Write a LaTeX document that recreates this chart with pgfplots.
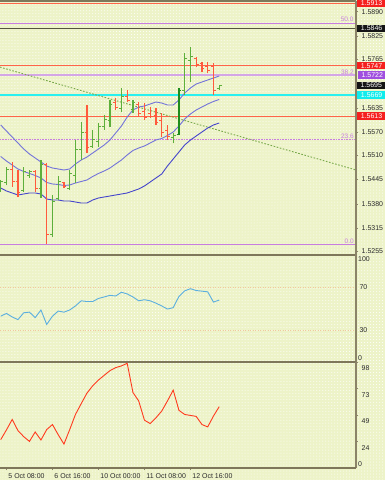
\documentclass[border=0pt]{standalone}
\usepackage{fontspec}
\setmainfont{Liberation Sans}
\usepackage{pgfplots}
\usepackage{pgfplotstable}
\pgfplotsset{compat=1.18}
\usetikzlibrary{patterns}

\definecolor{bg}{HTML}{EDF3C8}
\definecolor{sep}{HTML}{7E775A}
\definecolor{axc}{HTML}{8B8468}
\definecolor{txt}{HTML}{2A2A2A}
\definecolor{redl}{HTML}{FF6448}
\definecolor{redbox}{HTML}{F5201E}
\definecolor{blkbox}{HTML}{151515}
\definecolor{purbox}{HTML}{A04FDF}
\definecolor{cyanbox}{HTML}{10ECEC}
\definecolor{cyanl}{HTML}{29F0F0}
\definecolor{fibc}{HTML}{C87DE0}
\definecolor{fibthick}{HTML}{D4A6E6}
\definecolor{darkl}{HTML}{55533F}
\definecolor{gbar}{HTML}{5DAF3B}
\definecolor{dgbar}{HTML}{1E8C1E}
\definecolor{rbar}{HTML}{FF5A3C}
\definecolor{bandu}{HTML}{7373DA}
\definecolor{bandl}{HTML}{4545CC}
\definecolor{rsic}{HTML}{5AAEE0}
\definecolor{stoc}{HTML}{FF3A1E}
\definecolor{lvl}{HTML}{F2C79E}
\definecolor{trend}{HTML}{78A84A}

\newcommand\tf{\fontsize{7}{8}\selectfont}

\pgfdeclareplotmark{otick}{\pgfpathmoveto{\pgfpoint{-2.3bp}{0bp}}\pgfpathlineto{\pgfpoint{0bp}{0bp}}\pgfusepathqstroke}
\pgfdeclareplotmark{ctick}{\pgfpathmoveto{\pgfpoint{0bp}{0bp}}\pgfpathlineto{\pgfpoint{2.3bp}{0bp}}\pgfusepathqstroke}

% bars: index open high low close
\pgfplotstableread{
i o h l c
0 1.5415 1.5444 1.5412 1.5440
1 1.5438 1.5478 1.5430 1.5470
4 1.5415 1.5478 1.5412 1.5465
5 1.5455 1.5470 1.5449 1.5465
7 1.5420 1.5497 1.5396 1.5485
9 1.5300 1.5404 1.5292 1.5385
10 1.5395 1.5454 1.5390 1.5440
12 1.5422 1.5470 1.5417 1.5460
13 1.5455 1.5550 1.5435 1.5525
14 1.5525 1.5597 1.5497 1.5570
16 1.5532 1.5576 1.5528 1.5550
17 1.5545 1.5595 1.5531 1.5585
18 1.5585 1.5616 1.5576 1.5605
19 1.5600 1.5656 1.5584 1.5645
21 1.5632 1.5688 1.5624 1.5665
23 1.5630 1.5656 1.5621 1.5648
30 1.5555 1.5568 1.5541 1.5562
32 1.5680 1.5780 1.5669 1.5765
33 1.5760 1.5796 1.5703 1.5770
38 1.5685 1.5696 1.5682 1.5695
}\greenbars
\pgfplotstableread{
i o h l c
31 1.5565 1.5688 1.5563 1.5680
}\dgreenbars
\pgfplotstableread{
i o h l c
2 1.5470 1.5491 1.5425 1.5440
3 1.5440 1.5470 1.5398 1.5410
6 1.5465 1.5470 1.5412 1.5420
8 1.5485 1.5489 1.5273 1.5300
11 1.5436 1.5438 1.5422 1.5425
15 1.5570 1.5642 1.5515 1.5530
20 1.5650 1.5661 1.5629 1.5635
22 1.5665 1.5682 1.5650 1.5655
24 1.5645 1.5650 1.5611 1.5620
25 1.5625 1.5648 1.5603 1.5610
26 1.5620 1.5637 1.5608 1.5612
27 1.5615 1.5634 1.5589 1.5595
28 1.5600 1.5621 1.5557 1.5570
29 1.5575 1.5589 1.5550 1.5558
34 1.5765 1.5770 1.5743 1.5750
35 1.5752 1.5757 1.5730 1.5740
36 1.5745 1.5757 1.5727 1.5735
37 1.5745 1.5754 1.5669 1.5680
}\redbars
% bands
\pgfplotstableread{
i up mid lo
0 1.55894 1.55058 1.54221
1 1.55734 1.54938 1.54142
2 1.55575 1.54832 1.54089
3 1.55416 1.54726 1.54036
4 1.55257 1.54660 1.54062
5 1.55124 1.54607 1.54089
6 1.55018 1.54554 1.54089
7 1.54912 1.54487 1.54062
8 1.54805 1.54368 1.53930
9 1.54752 1.54328 1.53903
10 1.54726 1.54315 1.53903
11 1.54699 1.54288 1.53876
12 1.54726 1.54301 1.53876
13 1.54858 1.54354 1.53850
14 1.54965 1.54394 1.53823
15 1.55044 1.54434 1.53823
16 1.55150 1.54527 1.53903
17 1.55257 1.54607 1.53956
18 1.55363 1.54673 1.53983
19 1.55495 1.54752 1.54009
20 1.55681 1.54859 1.54036
21 1.55867 1.54965 1.54062
22 1.56106 1.55098 1.54089
23 1.56292 1.55217 1.54142
24 1.56371 1.55283 1.54195
25 1.56398 1.55337 1.54275
26 1.56451 1.55416 1.54381
27 1.56504 1.55496 1.54487
28 1.56477 1.55535 1.54593
29 1.56424 1.55615 1.54805
30 1.56424 1.55708 1.54991
31 1.56557 1.55867 1.55177
32 1.56743 1.56053 1.55363
33 1.56876 1.56186 1.55495
34 1.56982 1.56292 1.55602
35 1.57035 1.56372 1.55708
36 1.57088 1.56451 1.55814
37 1.57141 1.56518 1.55894
38 1.57194 1.56571 1.55947
}\bands
% oscillators
\pgfplotstableread{
i rsi sto
0 42.8 26.2
1 45.4 35.2
2 42.1 44.9
3 39.6 34.6
4 46.0 29.0
5 46.6 24.6
6 41.5 33.3
7 48.6 25.9
8 35.1 35.5
9 42.8 40.2
10 47.6 30.8
11 46.6 22.1
12 48.6 35.5
13 52.4 49.5
14 57.2 59.5
15 56.5 69.2
16 56.5 76.0
17 59.4 81.3
18 60.8 85.7
19 62.3 90.0
20 61.7 92.8
21 65.2 94.4
22 63.6 96.8
23 60.8 69.8
24 57.2 62.0
25 58.2 44.2
26 57.2 41.1
27 55.0 46.4
28 52.4 52.6
29 49.5 62.0
30 50.8 72.0
31 61.3 53.3
32 66.5 49.5
33 68.5 48.6
34 66.8 47.7
35 66.2 40.2
36 65.6 38.0
37 56.0 48.0
38 57.9 56.7
}\osc

\pgfplotsset{
  mtax/.style={scale only axis, width=356bp, xmin=-0.1217, xmax=61.79,
    axis line style={draw=none}, clip=false, ytick pos=right,
    tick align=outside, major tick length=2.2bp,
    tick style={draw=axc, line width=0.6bp},
    tick label style={font=\tf, text=txt}, xtick=\empty},
  hl/.style={draw=none, mark=none, forget plot, error bars/.cd, y dir=plus, y explicit,
    error mark=none, error bar style={draw=#1, line width=1.2bp}},
}
\tikzset{
  boxl/.style={anchor=west, inner xsep=1.6bp, inner ysep=1.2bp, font=\tf,
    text=white, minimum width=28.5bp, text height=5bp, text depth=0bp, xshift=0.8bp},
  fibl/.style={anchor=south east, font=\fontsize{6.5}{7}\selectfont, text=fibc,
    inner sep=0.6bp, xshift=-1.5bp},
}

\begin{document}
\begin{tikzpicture}
\useasboundingbox (0,0) rectangle (385bp,-480bp);
\fill[bg] (0,0) rectangle (385bp,-480bp);
\fill[pattern=dots, pattern color=white] (0,0) rectangle (385bp,-480bp);

% ---------------- main price panel
\begin{axis}[mtax, at={(0bp,-255bp)}, anchor=south west, height=254bp,
  ymin=1.52443, ymax=1.59185,
  ytick={1.5255,1.5315,1.5380,1.5445,1.5510,1.5570,1.5635,1.5765,1.5825,1.5890},
  yticklabels={1.5255,1.5315,1.5380,1.5445,1.5510,1.5570,1.5635,1.5765,1.5825,1.5890}]
% horizontal levels
\addplot[redl, line width=1bp] coordinates {(-0.1217,1.5913) (61.79,1.5913)}
  node[pos=1, boxl, fill=redbox] {1.5913};
\addplot[fibc, line width=1bp] coordinates {(-0.1217,1.5860) (61.79,1.5860)}
  node[pos=1, fibl] {50.0};
\addplot[darkl, line width=1.2bp] coordinates {(-0.1217,1.5846) (61.79,1.5846)}
  node[pos=1, boxl, fill=blkbox] {1.5846};
\addplot[redl, line width=1bp] coordinates {(-0.1217,1.5747) (61.79,1.5747)}
  node[pos=1, boxl, fill=redbox] {1.5747};
\addplot[fibthick, line width=2.4bp] coordinates {(-0.1217,1.5722) (61.79,1.5722)}
  node[pos=1, boxl, fill=purbox] {1.5722};
\node[boxl, fill=blkbox] at (axis cs:61.79,1.5695) {1.5695};
\addplot[cyanl, line width=1.2bp] coordinates {(-0.1217,1.5669) (61.79,1.5669)}
  node[pos=1, boxl, fill=cyanbox] {1.5669};
\addplot[redl, line width=1bp] coordinates {(-0.1217,1.5613) (61.79,1.5613)}
  node[pos=1, boxl, fill=redbox] {1.5613};
\addplot[fibc, line width=1bp, dash pattern=on 1bp off 0.6bp] coordinates {(-0.1217,1.5550) (61.79,1.5550)};
\addplot[fibc, line width=1bp] coordinates {(-0.1217,1.5273) (61.79,1.5273)};
\node[fibl] at (axis cs:61.79,1.5722) {38.2};
\node[fibl] at (axis cs:61.79,1.5550) {23.6};
\node[fibl] at (axis cs:61.79,1.5273) {0.0};
% trend line
\addplot[trend, line width=0.9bp, dash pattern=on 1.6bp off 1.6bp] coordinates {(-0.1217,1.5743) (61.79,1.5470)};
% bands
\addplot[bandu, line width=0.9bp] table[x=i, y=up] \bands;
\addplot[bandu, line width=0.9bp] table[x=i, y=mid] \bands;
\addplot[bandl, line width=0.9bp] table[x=i, y=lo] \bands;
% OHLC bars
\addplot[hl=gbar] table[x=i, y=l, y error expr=\thisrow{h}-\thisrow{l}] \greenbars;
\addplot[only marks, mark=otick, gbar, mark options={line width=1bp}] table[x=i, y=o] \greenbars;
\addplot[only marks, mark=ctick, gbar, mark options={line width=1bp}] table[x=i, y=c] \greenbars;
\addplot[hl=dgbar] table[x=i, y=l, y error expr=\thisrow{h}-\thisrow{l}] \dgreenbars;
\addplot[only marks, mark=otick, dgbar, mark options={line width=1bp}] table[x=i, y=o] \dgreenbars;
\addplot[only marks, mark=ctick, dgbar, mark options={line width=1bp}] table[x=i, y=c] \dgreenbars;
\addplot[hl=rbar] table[x=i, y=l, y error expr=\thisrow{h}-\thisrow{l}] \redbars;
\addplot[only marks, mark=otick, rbar, mark options={line width=1bp}] table[x=i, y=o] \redbars;
\addplot[only marks, mark=ctick, rbar, mark options={line width=1bp}] table[x=i, y=c] \redbars;
% frame
\draw[sep, line width=1.5bp] (rel axis cs:0,1) -- (rel axis cs:1,1);
\draw[sep, line width=2bp] (rel axis cs:0,0) -- (rel axis cs:1,0);
\draw[axc, line width=1.2bp] (rel axis cs:1,0) -- (rel axis cs:1,1);
\end{axis}

% ---------------- RSI panel
\begin{axis}[mtax, at={(0bp,-255bp)}, anchor=north west, height=107bp,
  ymin=0, ymax=100, ytick={30,70}, yticklabels={30,70}, major tick length=0bp]
\addplot[lvl, line width=0.8bp, dash pattern=on 1bp off 1.5bp] coordinates {(-0.1217,70) (61.79,70)};
\addplot[lvl, line width=0.8bp, dash pattern=on 1bp off 1.5bp] coordinates {(-0.1217,30) (61.79,30)};
\addplot[rsic, line width=0.9bp] table[x=i, y=rsi] \osc;
\node[font=\tf, text=txt, anchor=north west, inner sep=1.2bp, xshift=0.8bp] at (rel axis cs:1,1) {100};
\node[font=\tf, text=txt, anchor=south west, inner sep=1.2bp, xshift=0.8bp] at (rel axis cs:1,0) {0};
\draw[axc, line width=1.2bp] (rel axis cs:1,0) -- (rel axis cs:1,1);
\draw[sep, line width=2bp] (rel axis cs:0,0) -- (rel axis cs:1,0);
\end{axis}

% ---------------- third oscillator panel
\begin{axis}[mtax, at={(0bp,-362bp)}, anchor=north west, height=106bp,
  ymin=0, ymax=98, ytick={24.5,49,73.5,98}, yticklabels={24,49,73,98},
  yticklabel style={anchor=north west, yshift=-0.5bp},
  xtick={1,9,17,25,33},
  xticklabels={5 Oct 08:00,6 Oct 16:00,10 Oct 00:00,11 Oct 08:00,12 Oct 16:00},
  xtick pos=bottom, xticklabel style={anchor=north west, xshift=-1.5bp, yshift=0.5bp}]
\addplot[stoc, line width=0.9bp] table[x=i, y=sto] \osc;
\node[font=\tf, text=txt, anchor=south west, inner sep=1.2bp, xshift=0.8bp] at (rel axis cs:1,0) {0};
\draw[axc, line width=1.2bp] (rel axis cs:1,0) -- (rel axis cs:1,1);
\draw[sep, line width=2bp] (rel axis cs:0,0) -- (rel axis cs:1,0);
\end{axis}
\end{tikzpicture}
\end{document}
